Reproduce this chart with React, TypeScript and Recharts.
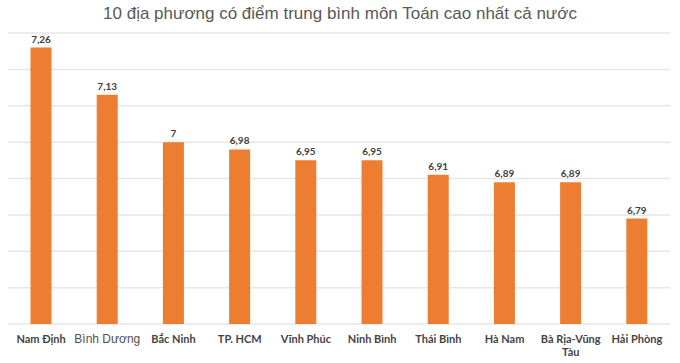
import React from "react";
import { BarChart, Bar, XAxis, YAxis, CartesianGrid, LabelList } from "recharts";

const provinces = [
  "Nam Định",
  "Bình Dương",
  "Bắc Ninh",
  "TP. HCM",
  "Vĩnh Phúc",
  "Ninh Bình",
  "Thái Bình",
  "Hà Nam",
  "Bà Rịa-Vũng Tàu",
  "Hải Phòng",
];
const scores = [7.26, 7.13, 7, 6.98, 6.95, 6.95, 6.91, 6.89, 6.89, 6.79];
const yTicks = [6.5, 6.6, 6.7, 6.8, 6.9, 7.0, 7.1, 7.2, 7.3];

const data = provinces.map((name, i) => ({ name, score: scores[i] }));

const formatScore = (v: number) => String(v).replace(".", ",");

function ProvinceTick({ x, y, payload }: any) {
  const label: string = payload.value;
  // "Bình Dương" is set in a different font in the original chart
  const odd = label === "Bình Dương";
  const lines = label === "Bà Rịa-Vũng Tàu" ? ["Bà Rịa-Vũng", "Tàu"] : [label];
  return (
    <text
      x={x}
      y={y + 11}
      textAnchor="middle"
      fill={odd ? "#505050" : "#444"}
      fontFamily={odd ? "Liberation Sans, Arial, sans-serif" : "Lato, sans-serif"}
      fontWeight={odd ? 400 : 700}
      fontSize={odd ? 12 : 11}
    >
      {lines.map((l, i) => (
        <tspan key={l} x={x} dy={i === 0 ? 0 : 13}>
          {l}
        </tspan>
      ))}
    </text>
  );
}

export default function App() {
  return (
    <div style={{ position: "absolute", left: 0, top: 0, width: 680, height: 363, background: "#fff" }}>
      <div
        style={{
          position: "absolute",
          top: 4,
          left: 0,
          width: 680,
          textAlign: "center",
          fontFamily: "Liberation Sans, Arial, sans-serif",
          fontSize: 17,
          color: "#595959",
          whiteSpace: "nowrap",
        }}
      >
        10 địa phương có điểm trung bình môn Toán cao nhất cả nước
      </div>
      <BarChart
        width={680}
        height={363}
        data={data}
        margin={{ top: 33, right: 10, bottom: 0, left: 8 }}
        barCategoryGap="34%"
      >
        <CartesianGrid vertical={false} stroke="#e6e6e6" strokeWidth={1.5} />
        <XAxis
          dataKey="name"
          axisLine={false}
          tickLine={false}
          interval={0}
          height={39}
          tick={<ProvinceTick />}
        />
        <YAxis hide domain={[6.5, 7.3]} ticks={yTicks} allowDataOverflow />
        <Bar dataKey="score" fill="#ED7D31" isAnimationActive={false}>
          <LabelList
            dataKey="score"
            position="top"
            offset={5}
            formatter={(v: any) => formatScore(v)}
            style={{ fontFamily: "Lato, sans-serif", fontWeight: 700, fontSize: 10, fill: "#404040" }}
          />
        </Bar>
      </BarChart>
    </div>
  );
}
